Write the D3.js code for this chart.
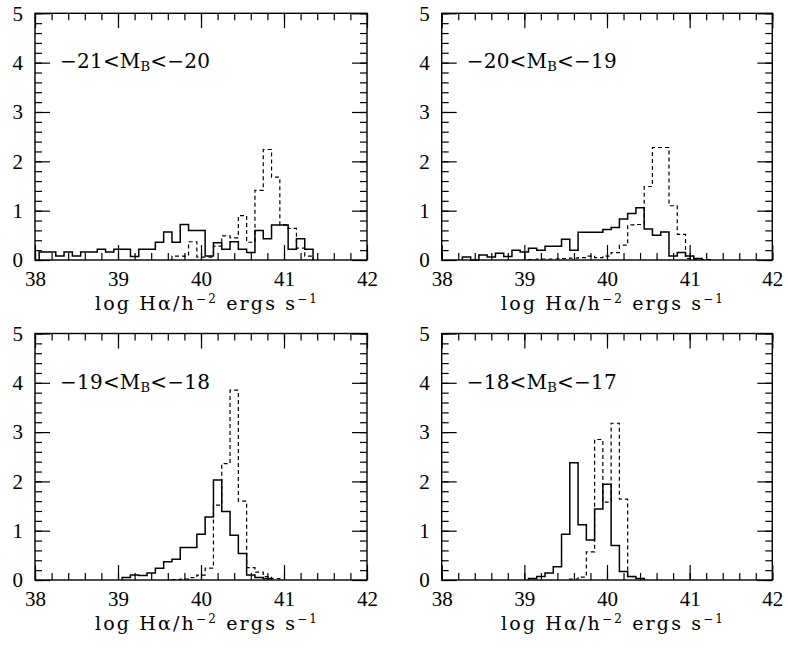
<!DOCTYPE html>
<html>
<head>
<meta charset="UTF-8">
<title>H-alpha luminosity histograms</title>
<script src="https://d3js.org/d3.v7.min.js"></script>
<style>
  body { margin: 0; background: #fff; }
  svg { display: block; }
  .tick text { font-family: "Liberation Serif", serif; font-size: 21px; fill: #000; }
  .tick line { stroke: #000; stroke-width: 1.2; }
  .lbl { font-family: "DejaVu Serif", serif; font-size: 20px; fill: #000; }
  .ttl { font-family: "DejaVu Serif", serif; font-size: 19px; fill: #000; }
</style>
</head>
<body>
<svg width="788" height="657"></svg>
<script>
  // tick values
  var xMajor = [38, 39, 40, 41, 42]
  var yMajor = [0, 1, 2, 3, 4, 5]

  // panel labels: text before subscript, subscript, text after
  var labels = [
    ["\u221221<M", "B", "<\u221220"],
    ["\u221220<M", "B", "<\u221219"],
    ["\u221219<M", "B", "<\u221218"],
    ["\u221218<M", "B", "<\u221217"]
  ]

  // histograms, 0.1 dex bins; *Start = centre of first bin
  var p1SolidStart = 38.1
  var p1Solid = [0.16, 0.16, 0.08, 0.16, 0.08, 0.16, 0.16, 0.22, 0.16, 0.22, 0.22, 0.07, 0.22, 0.22, 0.36, 0.57,
                 0.36, 0.72, 0.6, 0.6, 0.08, 0.35, 0.22, 0.37, 0.22, 0.15, 0.6, 0.43, 0.71, 0.71, 0.22, 0.43, 0.22]
  var p1DashStart = 39.7
  var p1Dash = [0.08, 0.08, 0.37, 0.06, 0.06, 0.28, 0.49, 0.45, 0.9, 0.36, 1.41, 2.24, 1.68, 0.71, 0.64, 0.24, 0.08]

  var p2SolidStart = 38.3
  var p2Solid = [0.06, 0, 0.1, 0.06, 0.135, 0.07, 0.2, 0.16, 0.24, 0.2, 0.28, 0.28, 0.42, 0.2, 0.56, 0.56, 0.56,
                 0.62, 0.66, 0.83, 0.94, 1.06, 0.63, 0.5, 0.57, 0.08, 0.15, 0.08, 0.03]
  var p2DashStart = 39.1
  var p2Dash = [0.01, 0.02, 0.02, 0.02, 0.03, 0.04, 0.05, 0.08, 0.05, 0.08, 0.15, 0.3, 0.71, 0.72, 1.49, 2.28,
                2.28, 1.1, 0.52, 0.03, 0.02, 0.01]

  var p3SolidStart = 39.1
  var p3Solid = [0.05, 0.1, 0.09, 0.14, 0.24, 0.37, 0.42, 0.66, 0.66, 0.93, 1.28, 2.03, 1.39, 0.91, 0.54, 0.1, 0.05, 0.03]
  var p3DashStart = 39.7
  var p3Dash = [0.01, 0.02, 0.05, 0.1, 0.24, 1.52, 2.36, 3.85, 1.6, 0.25, 0.16, 0.07, 0.03]

  var p4SolidStart = 39.1
  var p4Solid = [0.03, 0.07, 0.14, 0.27, 0.93, 2.38, 1.12, 0.81, 1.44, 1.94, 0.7, 0.17, 0.07, 0.03]
  var p4DashStart = 39.6
  var p4Dash = [0.02, 0.06, 0.57, 2.85, 1.58, 3.18, 1.64, 0.07, 0.03]

  var binW = 0.1

  var panels = [
    { left: 35, right: 367, top: 13.3, bottom: 260, label: labels[0], s0: p1SolidStart, s: p1Solid, d0: p1DashStart, d: p1Dash },
    { left: 441.7, right: 772.3, top: 13.3, bottom: 260, label: labels[1], s0: p2SolidStart, s: p2Solid, d0: p2DashStart, d: p2Dash },
    { left: 35, right: 367, top: 333.5, bottom: 580, label: labels[2], s0: p3SolidStart, s: p3Solid, d0: p3DashStart, d: p3Dash },
    { left: 441.7, right: 772.3, top: 333.5, bottom: 580, label: labels[3], s0: p4SolidStart, s: p4Solid, d0: p4DashStart, d: p4Dash }
  ]

  var svg = d3.select("svg")

  function minorTicks(a, b) {
    var out = []
    for (var v = a; v <= b + 1e-9; v += 0.2) out.push(+v.toFixed(1))
    return out
  }

  // step outline from bin values
  function steps(start, vals) {
    var pts = []
    vals.forEach(function(v, i) {
      var e0 = start - binW / 2 + i * binW
      if (i == 0) pts.push([e0, 0])
      pts.push([e0, v])
      pts.push([e0 + binW, v])
    })
    pts.push([start - binW / 2 + vals.length * binW, 0])
    return pts
  }

  panels.forEach(function(p) {
    var x = d3.scaleLinear().domain([38, 42]).range([p.left, p.right])
    var y = d3.scaleLinear().domain([0, 5]).range([p.bottom, p.top])
    var w = p.right - p.left, h = p.bottom - p.top

    var g = svg.append("g")

    // minor ticks, all four sides
    g.append("g").attr("transform", "translate(0," + p.bottom + ")")
      .call(d3.axisBottom(x).tickValues(minorTicks(38, 42)).tickSize(-7).tickSizeOuter(0).tickFormat(""))
    g.append("g").attr("transform", "translate(0," + p.top + ")")
      .call(d3.axisTop(x).tickValues(minorTicks(38, 42)).tickSize(-7).tickSizeOuter(0).tickFormat(""))
    g.append("g").attr("transform", "translate(" + p.left + ",0)")
      .call(d3.axisLeft(y).tickValues(minorTicks(0, 5)).tickSize(-7).tickSizeOuter(0).tickFormat(""))
    g.append("g").attr("transform", "translate(" + p.right + ",0)")
      .call(d3.axisRight(y).tickValues(minorTicks(0, 5)).tickSize(-7).tickSizeOuter(0).tickFormat(""))

    // major ticks with labels
    g.append("g").attr("transform", "translate(0," + p.bottom + ")")
      .call(d3.axisBottom(x).tickValues(xMajor).tickSize(-15).tickSizeOuter(0).tickPadding(11).tickFormat(d3.format("d")))
    g.append("g").attr("transform", "translate(0," + p.top + ")")
      .call(d3.axisTop(x).tickValues(xMajor).tickSize(-15).tickSizeOuter(0).tickFormat(""))
    g.append("g").attr("transform", "translate(" + p.left + ",0)")
      .call(d3.axisLeft(y).tickValues(yMajor).tickSize(-15).tickSizeOuter(0).tickPadding(12).tickFormat(d3.format("d")))
    g.append("g").attr("transform", "translate(" + p.right + ",0)")
      .call(d3.axisRight(y).tickValues(yMajor).tickSize(-15).tickSizeOuter(0).tickFormat(""))

    g.selectAll(".domain").remove()

    g.append("rect")
      .attr("x", p.left).attr("y", p.top)
      .attr("width", w).attr("height", h)
      .attr("fill", "none").attr("stroke", "#000").attr("stroke-width", 1.4)

    var line = d3.line().x(function(d) { return x(d[0]) }).y(function(d) { return y(d[1]) })

    g.append("path")
      .attr("d", line(steps(p.d0, p.d)))
      .attr("fill", "none").attr("stroke", "#000").attr("stroke-width", 1.2)
      .attr("stroke-dasharray", "4,3")

    g.append("path")
      .attr("d", line(steps(p.s0, p.s)))
      .attr("fill", "none").attr("stroke", "#000").attr("stroke-width", 1.5)

    // panel label
    var t = g.append("text").attr("class", "lbl")
      .attr("x", p.left + 25).attr("y", p.top + 55)
      .attr("textLength", 150).attr("lengthAdjust", "spacing")
    t.append("tspan").text(p.label[0])
    t.append("tspan").attr("dy", 3).style("font-size", "13px").text(p.label[1])
    t.append("tspan").attr("dy", -3).text(p.label[2])

    // x axis title
    var tt = g.append("text").attr("class", "ttl")
      .attr("x", p.left + w / 2 + 5).attr("y", p.bottom + 50)
      .attr("text-anchor", "middle")
      .attr("textLength", 222).attr("lengthAdjust", "spacing")
    tt.append("tspan").text("log H\u03b1/h")
    tt.append("tspan").attr("dy", -7).style("font-size", "12px").text("\u22122")
    tt.append("tspan").attr("dy", 7).text(" ergs s")
    tt.append("tspan").attr("dy", -7).style("font-size", "12px").text("\u22121")
  })
</script>
</body>
</html>
